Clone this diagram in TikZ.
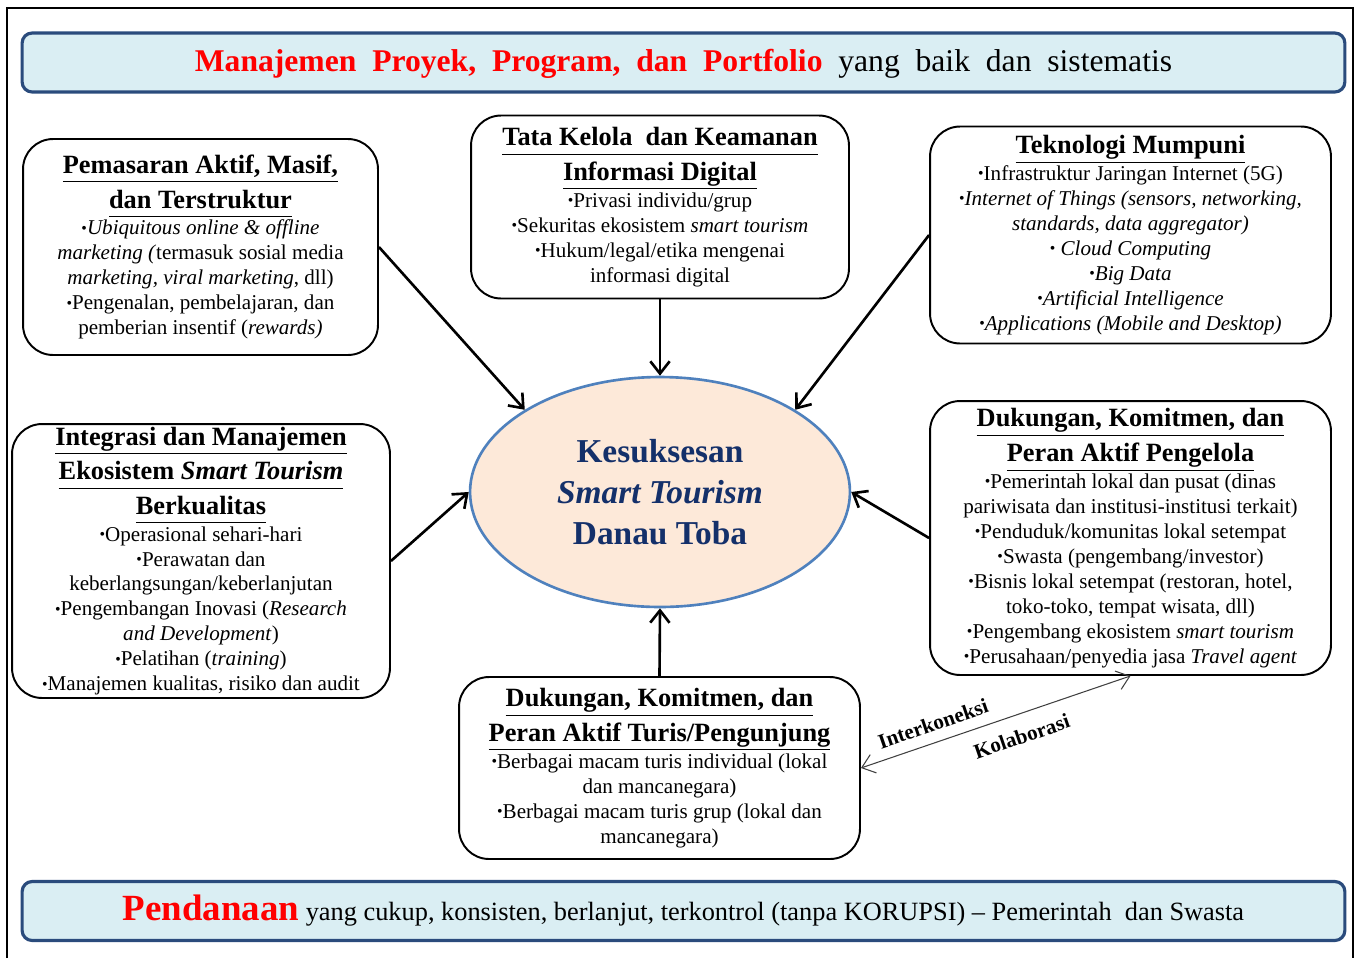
\documentclass[tikz,border=0pt]{standalone}
\usepackage{fontspec}
\setmainfont{Liberation Serif}
\usetikzlibrary{shapes.geometric,arrows.meta}

\definecolor{bannerfill}{HTML}{DAEEF3}
\definecolor{bannerline}{HTML}{2A4B7C}
\definecolor{goalfill}{HTML}{FDE9D9}
\definecolor{goalline}{HTML}{4F81BD}
\definecolor{goaltext}{HTML}{14306A}

\newcommand{\itm}{\raisebox{0.15ex}{\scalebox{0.75}{\textbullet}}}
\newcommand{\head}[1]{{\fontsize{15}{17}\selectfont\bfseries\underline{#1\vphantom{gj}}}}

\tikzset{
  banner/.style={draw=bannerline, line width=1.8pt, fill=bannerfill, rounded corners=0.2cm,
    minimum width=26.46cm, minimum height=1.18cm, inner sep=0pt},
  pillar/.style={draw, line width=1.1pt, rounded corners=0.6cm, align=center, inner sep=0pt,
    font=\fontsize{12}{14.2}\selectfont},
  pull/.style={->, line width=1.5pt},
  link/.style={<->, line width=0.6pt, draw=black!75},
  tag/.style={font=\fontsize{12}{14}\selectfont\bfseries, sloped, inner sep=1pt},
}

\begin{document}
\begin{tikzpicture}[x=0.02cm, y=-0.02cm, >={Straight Barb[length=7pt,width=11pt]}]
    \useasboundingbox (0,0) rectangle (1363,958);

    % Outer frame (open at the bottom)
    \draw[line width=0.9pt] (7,958) -- (7,8) -- (1353,8) -- (1353,958);

    % Top and bottom banners
    \node[banner, text depth=3pt] (plan) at (683.5,62.5) {\fontsize{18}{22}\selectfont
      {\color{red}\bfseries Manajemen\ \ Proyek,\ \ Program,\ \ dan\ \ Portfolio}\ \ yang\ \ baik\ \ dan\ \ sistematis};
    \node[banner] (fund) at (683.5,911) {\fontsize{15}{17}\selectfont
      {\fontsize{21}{24}\selectfont\color{red}\bfseries Pendanaan}\ yang cukup, konsisten, berlanjut, terkontrol (tanpa KORUPSI) -- Pemerintah\ \ dan Swasta};

    % Central goal
    \node[ellipse, draw=goalline, line width=1.5pt, fill=goalfill, minimum width=7.6cm, minimum height=4.6cm,
      align=center, text=goaltext, font=\fontsize{19}{23.5}\selectfont\bfseries] (goal) at (660,492)
      {Kesuksesan\\ \textit{Smart Tourism}\\ Danau Toba};

    % Surrounding pillars
    \node[pillar, minimum width=7.1cm, minimum height=4.32cm] (market) at (200.5,247) {%
      \head{Pemasaran Aktif, Masif,}\\[3pt]
      \head{dan Terstruktur}\\[1pt]
      \itm\textit{Ubiquitous online \& offline}\\
      \textit{marketing (}termasuk sosial media\\
      \textit{marketing, viral marketing}, dll)\\
      \itm Pengenalan, pembelajaran, dan\\
      pemberian insentif (\textit{rewards)}};

    \node[pillar, minimum width=7.56cm, minimum height=3.66cm] (govern) at (660,207) {%
      \head{Tata Kelola\ \ dan Keamanan}\\[3pt]
      \head{Informasi Digital}\\[1pt]
      \itm Privasi individu/grup\\
      \itm Sekuritas ekosistem \textit{smart tourism}\\
      \itm Hukum/legal/etika mengenai\\
      informasi digital};

    \node[pillar, minimum width=8.02cm, minimum height=4.34cm] (tech) at (1130.5,235) {%
      \head{Teknologi Mumpuni}\\[1pt]
      \itm Infrastruktur Jaringan Internet (5G)\\
      \itm\textit{Internet of Things (sensors, networking,}\\
      \textit{standards, data aggregator)}\\
      \itm\ \textit{Cloud Computing}\\
      \itm\textit{Big Data}\\
      \itm\textit{Artificial Intelligence}\\
      \itm\textit{Applications (Mobile and Desktop)}};

    \node[pillar, minimum width=7.56cm, minimum height=5.48cm] (integ) at (201,561) {%
      \head{Integrasi dan Manajemen}\\[3pt]
      \head{Ekosistem \textit{Smart Tourism}}\\[3pt]
      \head{Berkualitas}\\[1pt]
      \itm Operasional sehari-hari\\
      \itm Perawatan dan\\
      keberlangsungan/keberlanjutan\\
      \itm Pengembangan Inovasi (\textit{Research}\\
      \textit{and Development})\\
      \itm Pelatihan (\textit{training})\\
      \itm Manajemen kualitas, risiko dan audit};

    \node[pillar, minimum width=8.02cm, minimum height=5.48cm] (manager) at (1130.5,538) {%
      \head{Dukungan, Komitmen, dan}\\[3pt]
      \head{Peran Aktif Pengelola}\\[1pt]
      \itm Pemerintah lokal dan pusat (dinas\\
      pariwisata dan institusi-institusi terkait)\\
      \itm Penduduk/komunitas lokal setempat\\
      \itm Swasta (pengembang/investor)\\
      \itm Bisnis lokal setempat (restoran, hotel,\\
      toko-toko, tempat wisata, dll)\\
      \itm Pengembang ekosistem \textit{smart tourism}\\
      \itm Perusahaan/penyedia jasa \textit{Travel agent}};

    \node[pillar, minimum width=8.02cm, minimum height=3.64cm] (visitor) at (659.5,768) {%
      \head{Dukungan, Komitmen, dan}\\[3pt]
      \head{Peran Aktif Turis/Pengunjung}\\[1pt]
      \itm Berbagai macam turis individual (lokal\\
      dan mancanegara)\\
      \itm Berbagai macam turis grup (lokal dan\\
      mancanegara)};

    % Arrows into the goal
    \draw[pull] (market.east) -- (goal.north west);
    \draw[pull] (govern.south) -- (goal.north);
    \draw[pull] (tech.west) -- (goal.north east);
    \draw[pull] (integ.east) -- (goal.west);
    \draw[pull] (manager.west) -- (goal.east);
    \draw[pull] (visitor.north) -- (goal.south);

    % Link between visitors and managers
    \draw[link] (visitor.east) -- (manager.south)
      node[tag, pos=0.29, above=5pt] {Interkoneksi}
      node[tag, pos=0.57, below=7pt] {Kolaborasi};
\end{tikzpicture}
\end{document}
